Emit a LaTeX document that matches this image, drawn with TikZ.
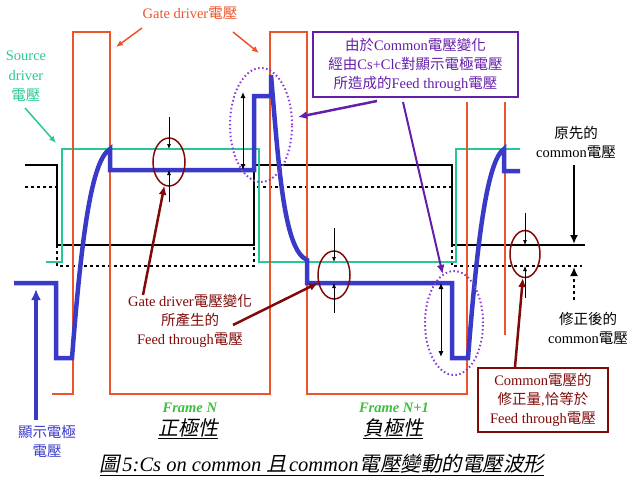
\documentclass[tikz,border=0pt]{standalone}
\usepackage{fontspec}
\setmainfont{Liberation Serif}
\newfontfamily\cjk{Noto Sans CJK TC}
\newfontfamily\cjkit[FakeSlant=0.2]{Noto Sans CJK TC}
\usetikzlibrary{arrows.meta,shapes.geometric}

\definecolor{gatered}{RGB}{236,84,44}
\definecolor{srcgreen}{RGB}{40,200,150}
\definecolor{pixblue}{RGB}{58,58,200}
\definecolor{ftpurple}{RGB}{100,30,170}
\definecolor{dotpurple}{RGB}{140,60,210}
\definecolor{darkred}{RGB}{128,10,10}
\definecolor{framegreen}{RGB}{60,190,60}

\newcommand{\zh}[1]{{\cjk #1}}
\newcommand{\zhit}[1]{{\cjkit #1}}

\tikzset{
	lbl/.style={font=\fontsize{14.5}{19}\selectfont, align=center, inner sep=0},
	bigtip/.style={-{Latex[length=9pt,width=8pt]}, line width=2.5pt},
	smalltip/.style={-{Latex[length=5pt,width=4pt]}, line width=0.7pt},
	fbring/.style={ellipse, draw=darkred, line width=1.5pt, minimum width=32pt, minimum height=48pt, inner sep=0},
	cmring/.style={ellipse, draw=dotpurple, line width=2pt, dash pattern=on 1.5pt off 2.5pt, inner sep=0}
}

\begin{document}
\begin{tikzpicture}[x=1pt, y=-1pt]
			\useasboundingbox (0,0) rectangle (638,480);

			% common voltage, corrected (dotted) and original (solid)
			\draw[line width=2.5pt, dash pattern=on 3pt off 3pt] (25,187)--(57,187)--(57,266)--(254,266)--(254,187)--(452,187)--(452,266)--(582,266);
			\draw[line width=2.8pt] (25,165)--(57,165)--(57,245)--(254,245)--(254,165)--(452,165)--(452,245)--(585,245);

			% source driver
			\draw[srcgreen, line width=2pt] (46,262)--(62,262)--(62,149)--(259,149)--(259,262)--(456,262)--(456,149)--(520,149);

			% gate driver
			\draw[gatered, line width=2pt] (52,394)--(73,394)--(73,32)--(110,32)--(110,394)--(270,394)--(270,32)--(307,32)--(307,394)--(467,394)--(467,102);
			\draw[gatered, line width=2pt] (505,102)--(505,335);

			% pixel electrode
			\draw[pixblue, line width=4.5pt, line join=miter]
				(14,283)--(56,283)--(56,358)--(72,358)
				.. controls (82,230) and (92,160) .. (110,149)
				--(110,170)--(254,170)--(254,96)--(271,96)--(271,75)
				.. controls (279,170) and (284,250) .. (307,260)
				--(307,283)--(452,283)--(452,358)--(468,358)
				.. controls (478,230) and (488,160) .. (504,149)
				--(504,171)--(520,171);

			% feed through marks
			\node[fbring] (fbN) at (169,162) {};
			\node[fbring] (fbNN) at (334,275) {};
			\node[fbring, minimum width=30pt, minimum height=47pt] (corr) at (525,254) {};
			\foreach \x/\a/\b/\c/\d in {169/117/149/202/170, 334/228/262/313/283, 525/213/245/298/266}
				{
					\draw[smalltip] (\x,\a)--(\x,\b);
					\draw[smalltip] (\x,\c)--(\x,\d);
				}

			\node[cmring, minimum width=62pt, minimum height=114pt] (cmA) at (261,125) {};
			\node[cmring, minimum width=58pt, minimum height=104pt] (cmB) at (454,323) {};
			\draw[{Latex[length=6pt,width=5pt]}-{Latex[length=6pt,width=5pt]}, line width=1pt] (243,92)--(243,170);
			\draw[{Latex[length=6pt,width=5pt]}-{Latex[length=6pt,width=5pt]}, line width=1pt] (441,283)--(441,357);

			% labels
			\node[lbl, text=gatered] (gatelbl) at (190,13) {Gate driver\zh{電壓}};
			\coordinate (ga1) at (142,28);
			\coordinate (ga2) at (116,47);
			\coordinate (gb1) at (233,32);
			\coordinate (gb2) at (259,53);
			\draw[gatered, -{Latex[length=7pt,width=6pt]}, line width=1.5pt] (ga1)--(ga2);
			\draw[gatered, -{Latex[length=7pt,width=6pt]}, line width=1.5pt] (gb1)--(gb2);

			\node[lbl, text=srcgreen, font=\fontsize{14.5}{20}\selectfont] (srclbl) at (26,76) {Source\\driver\\\zh{電壓}};
			\coordinate (sa1) at (25,108);
			\coordinate (sa2) at (56,143);
			\draw[srcgreen, -{Latex[length=7pt,width=6pt]}, line width=1.5pt] (sa1)--(sa2);

			\node[lbl, draw=ftpurple, line width=1.2pt, text=ftpurple, minimum width=205pt, minimum height=65pt] (ftbox) at (415.5,64.5)
				{\zh{由於}Common\zh{電壓變化}\\\zh{經由}Cs+Clc\zh{對顯示電極電壓}\\\zh{所造成的}Feed through\zh{電壓}};
			\coordinate (fa1) at (377,101);
			\coordinate (fa2) at (298,117);
			\coordinate (fb1) at (403,102);
			\draw[ftpurple, bigtip] (fa1)--(fa2);
			\draw[ftpurple, bigtip, line width=2pt] (fb1)--(cmB);

			\node[lbl, text=darkred] (gatefb) at (190,321) {Gate driver\zh{電壓變化}\\\zh{所產生的}\\Feed through\zh{電壓}};
			\coordinate (da1) at (143,295);
			\coordinate (db1) at (233,325);
			\draw[darkred, bigtip] (da1)--(fbN);
			\draw[darkred, bigtip] (db1)--(fbNN);

			\node[lbl, draw=darkred, line width=1.2pt, text=darkred, minimum width=130pt, minimum height=64pt] (corrbox) at (543,400)
				{Common\zh{電壓的}\\\zh{修正量},\zh{恰等於}\\Feed through\zh{電壓}};
			\coordinate (ca1) at (515,367);
			\draw[darkred, bigtip] (ca1)--(corr);

			\node[lbl] (oldcom) at (576,142) {\zh{原先的}\\common\zh{電壓}};
			\coordinate (oa1) at (574,165);
			\coordinate (oa2) at (574,244);
			\draw[bigtip] (oa1)--(oa2);

			\node[lbl] (newcom) at (588,328) {\zh{修正後的}\\common\zh{電壓}};
			\coordinate (na1) at (574,300);
			\coordinate (na2) at (574,267);
			\draw[-{Latex[length=9pt,width=8pt]}, line width=2.5pt, dash pattern=on 3pt off 3pt] (na1)--(na2);

			\node[lbl, text=pixblue] (pixlbl) at (47,441) {\zh{顯示電極}\\\zh{電壓}};
			\coordinate (pa1) at (36,420);
			\coordinate (pa2) at (36,289);
			\draw[pixblue, -{Latex[length=11pt,width=10pt]}, line width=4pt] (pa1)--(pa2);

			\node[lbl, text=framegreen] (frameN) at (190,408) {\textbf{\textit{Frame N}}};
			\node[lbl, font=\fontsize{20}{22}\selectfont] (polN) at (188,429) {\underline{\zhit{正極性}}};
			\node[lbl, text=framegreen] (frameNN) at (394,408) {\textbf{\textit{Frame N+1}}};
			\node[lbl, font=\fontsize{20}{22}\selectfont] (polNN) at (393,429) {\underline{\zhit{負極性}}};

			\node[lbl, font=\fontsize{20.5}{24}\selectfont] (caption) at (322,465)
				{\underline{\zhit{圖}\kern2pt\textit{5:Cs on common }\zhit{且}\kern2pt\textit{common}\kern1pt\zhit{電壓變動的電壓波形}}};
		\end{tikzpicture}
\end{document}
